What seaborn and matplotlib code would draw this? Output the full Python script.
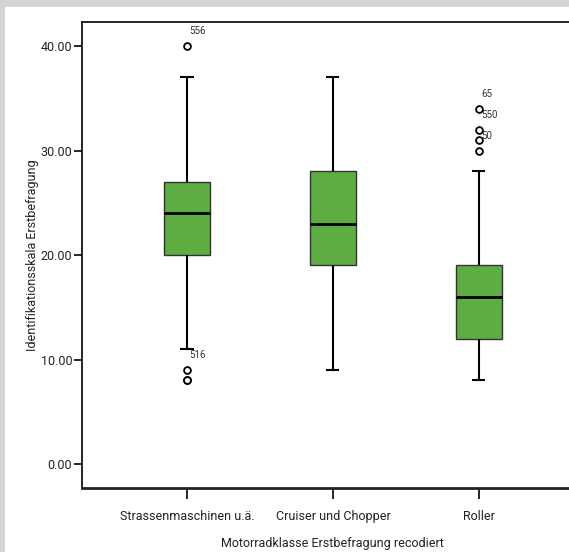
import matplotlib
matplotlib.use("Agg")
import matplotlib.pyplot as plt
from matplotlib.patches import Rectangle
import numpy as np
import pandas as pd
import seaborn as sns

# Five-number summaries per motorcycle class (whisker low, Q1, median, Q3, whisker high)
categories = ["Strassenmaschinen u.ä.", "Cruiser und Chopper", "Roller"]
whisker_low = [11, 9, 8]
q1 = [20, 19, 12]
median = [24, 23, 16]
q3 = [27, 28, 19]
whisker_high = [37, 37, 28]

# Outliers with their case numbers (empty string = unlabelled)
outlier_cat = ["Strassenmaschinen u.ä.", "Strassenmaschinen u.ä.", "Strassenmaschinen u.ä.",
               "Strassenmaschinen u.ä.", "Roller", "Roller", "Roller", "Roller"]
outlier_val = [40, 9, 8, 8, 34, 32, 31, 30]
outlier_id = ["556", "516", "", "", "65", "550", "", "50"]

y_ticks = [0, 10, 20, 30, 40]
x_label = "Motorradklasse Erstbefragung recodiert"
y_label = "Identifikationsskala Erstbefragung"

sns.set_theme(style="white")
plt.rcParams["font.family"] = ["Roboto", "DejaVu Sans"]

rows = []
for c, lo, a, m, b, hi in zip(categories, whisker_low, q1, median, q3, whisker_high):
    for v in (lo, a, m, b, hi):
        rows.append({"klasse": c, "wert": v})
summary = pd.DataFrame(rows)
outliers = pd.DataFrame({"klasse": outlier_cat, "wert": outlier_val, "id": outlier_id})

fig = plt.figure(figsize=(5.69, 5.52), dpi=100)
fig.patch.set_facecolor("white")
ax = fig.add_axes([0.1441, 0.1159, 0.882, 0.8442])

sns.boxplot(
    data=summary, x="klasse", y="wert", order=categories, ax=ax,
    whis=(0, 100), width=0.315, color="#5EAD42", saturation=1,
    linecolor="#333333", linewidth=1.0, showfliers=False,
    medianprops={"color": "black", "linewidth": 2.0},
    whiskerprops={"color": "black", "linewidth": 1.5},
    capprops={"visible": False},
)

# short whisker caps
xpos = np.arange(len(categories))
cap_half = 0.045
ax.hlines(whisker_low, xpos - cap_half, xpos + cap_half, color="black", linewidth=1.5, zorder=3)
ax.hlines(whisker_high, xpos - cap_half, xpos + cap_half, color="black", linewidth=1.5, zorder=3)

sns.scatterplot(
    data=outliers, x="klasse", y="wert", ax=ax, marker="o", s=24,
    facecolor="white", edgecolor="black", linewidth=1.3, zorder=5, legend=False,
)

pos = {c: i for i, c in enumerate(categories)}
for c, v, lab in zip(outlier_cat, outlier_val, outlier_id):
    if lab:
        ax.annotate(lab, (pos[c], v), xytext=(1.5, 10.8), textcoords="offset points",
                    ha="left", va="center", fontsize=7, color="#333333")

ax.set_xlim(-0.72, 2.72)
ax.set_ylim(-2.3, 42.3)
ax.set_yticks(y_ticks)
ax.set_yticklabels([f"{t:.2f}" for t in y_ticks])
ax.set_xlabel(x_label, fontsize=9, color="#222222", labelpad=10)
ax.set_ylabel(y_label, fontsize=9, color="#222222", labelpad=1)
ax.tick_params(axis="y", which="major", direction="out", length=6, width=1.2,
               color="black", labelsize=9, labelcolor="#222222", left=True, pad=1)
ax.tick_params(axis="x", which="major", direction="out", length=8, width=1.2,
               color="black", labelsize=9, labelcolor="#222222", bottom=True, pad=8)
for side in ("left", "top", "right"):
    ax.spines[side].set_color("black")
    ax.spines[side].set_linewidth(1.2)
ax.spines["bottom"].set_color("#222222")
ax.spines["bottom"].set_linewidth(2.0)

# light grey page border at top and left
fig.patches.append(Rectangle((0, 1 - 7 / 552), 1, 7 / 552, transform=fig.transFigure,
                             facecolor="#d4d4d4", edgecolor="none", zorder=10))
fig.patches.append(Rectangle((0, 0), 5 / 569, 1, transform=fig.transFigure,
                             facecolor="#d4d4d4", edgecolor="none", zorder=10))

fig.savefig("out.png", dpi=100)
